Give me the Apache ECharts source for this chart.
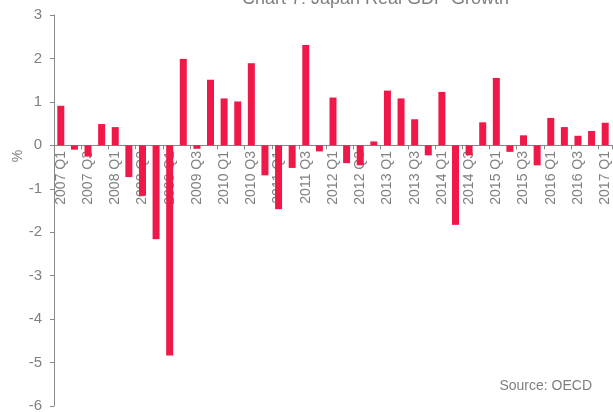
<!DOCTYPE html>
<html>
<head>
<meta charset="utf-8">
<script src="https://cdn.jsdelivr.net/npm/echarts@6/dist/echarts.min.js"></script>
<style>
html,body{margin:0;padding:0;background:#fff;}
#chart{width:613px;height:412px;}
</style>
</head>
<body>
<div id="chart"></div>
<script>
var quarters = [];
(function(){
  for (var y = 2007; y <= 2017; y++) {
    for (var q = 1; q <= 4; q++) {
      if (y === 2017 && q > 1) break;
      quarters.push(y + ' Q' + q);
    }
  }
})();
var gdpGrowth = [
  0.91, -0.10, -0.26, 0.49,
  0.42, -0.73, -1.16, -2.16,
  -4.84, 1.99, -0.08, 1.51,
  1.08, 1.01, 1.89, -0.69,
  -1.47, -0.52, 2.31, -0.14,
  1.10, -0.41, -0.46, 0.09,
  1.26, 1.08, 0.60, -0.23,
  1.23, -1.83, -0.23, 0.53,
  1.55, -0.15, 0.23, -0.46,
  0.63, 0.42, 0.22, 0.33,
  0.52
];
var titleText = 'Chart 7: Japan Real GDP Growth';
var sourceText = 'Source: OECD';
var yAxisLabel = '%';

var chart = echarts.init(document.getElementById('chart'), null, {renderer:'canvas'});
var grey = '#808080';
var font = 'Liberation Sans, Arial, sans-serif';
chart.setOption({
  animation: false,
  title: {
    text: titleText,
    left: 242,
    top: -10,
    padding: 0,
    textStyle: {color: '#7f7f7f', fontSize: 18, fontWeight: 'normal', fontFamily: font}
  },
  grid: {left: 54, right: 1, top: 15, bottom: 6, containLabel: false, outerBoundsMode: 'none'},
  xAxis: {
    type: 'category',
    data: quarters,
    axisLine: {onZero: true, lineStyle: {color: '#888888', width: 1}},
    axisTick: {show: true, length: 4, lineStyle: {color: '#888888'}},
    axisLabel: {
      interval: 1,
      rotate: 90,
      margin: -255,
      color: grey,
      fontSize: 14,
      fontFamily: font
    },
    splitLine: {show: false}
  },
  yAxis: {
    type: 'value',
    min: -6,
    max: 3,
    interval: 1,
    axisLine: {show: true, lineStyle: {color: '#888888', width: 1}},
    axisTick: {show: true, length: 4, lineStyle: {color: '#888888'}},
    axisLabel: {color: grey, fontSize: 15, fontFamily: font, margin: 12},
    splitLine: {show: false}
  },
  graphic: [
    {
      type: 'text',
      x: 18, y: 156,
      rotation: Math.PI / 2,
      style: {text: yAxisLabel, fill: grey, fontSize: 14, fontFamily: font, textAlign: 'center', textVerticalAlign: 'middle'}
    },
    {
      type: 'text',
      x: 592, y: 386,
      style: {text: sourceText, fill: '#7f7f7f', fontSize: 14, fontFamily: font, textAlign: 'right', textVerticalAlign: 'middle'}
    }
  ],
  series: [{
    type: 'bar',
    data: gdpGrowth,
    barWidth: 7,
    z: 1,
    itemStyle: {color: '#EF1849'}
  }]
});
</script>
</body>
</html>
